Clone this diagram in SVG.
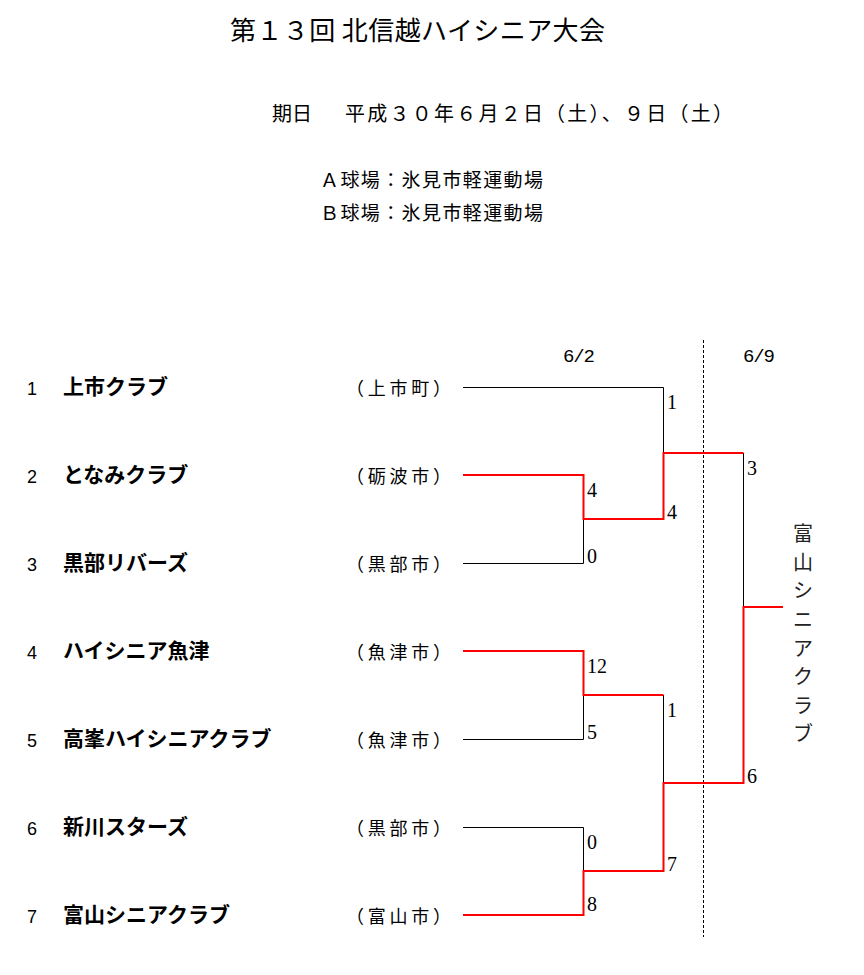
<svg xmlns="http://www.w3.org/2000/svg" width="864" height="975" viewBox="0 0 864 975">
<style>
.title{font-family:"Noto Sans CJK JP",sans-serif;font-size:26px;fill:#000}
.sub{font-family:"Noto Sans CJK JP",sans-serif;font-size:20px;fill:#000}
.venue{font-family:"Noto Sans CJK JP",sans-serif;font-size:19px;fill:#000}
.num{font-family:"Liberation Sans",sans-serif;font-size:18px;fill:#000}
.team{font-family:"Noto Sans CJK JP",sans-serif;font-size:21px;font-weight:bold;fill:#000}
.city{font-family:"Noto Sans CJK JP",sans-serif;font-size:18px;fill:#000}
.date{font-family:"Liberation Mono",monospace;font-size:19px;fill:#000}
.score{font-family:"Liberation Serif",serif;font-size:20px;fill:#000}
.win{font-family:"Noto Sans CJK JP",sans-serif;font-size:20px;fill:#222;text-anchor:middle}
.blk{fill:none;stroke:#000;stroke-width:1}
.red{fill:none;stroke:#ff0000;stroke-width:2}
.dash{fill:none;stroke:#000;stroke-width:1;stroke-dasharray:3,2}
</style>
<g id="header">
<text class="title" x="230" y="40" textLength="375">第１３回 北信越ハイシニア大会</text>
<text class="sub" x="272" y="121">期日</text>
<text class="sub" x="345" y="121" textLength="388">平成３０年６月２日（土）、９日（土）</text>
<text class="venue" x="320" y="187" textLength="223">Ａ球場：氷見市軽運動場</text>
<text class="venue" x="320" y="220" textLength="223">Ｂ球場：氷見市軽運動場</text>
<text class="date" x="563" y="362" textLength="32">6/2</text>
<text class="date" x="743" y="362" textLength="32">6/9</text>
</g>
<g id="team1"><text class="num" x="27" y="395">1</text><text class="team" x="63" y="394">上市クラブ</text><text class="city" x="346" y="395" textLength="105">（上市町）</text></g>
<g id="team2"><text class="num" x="27" y="483">2</text><text class="team" x="63" y="482">となみクラブ</text><text class="city" x="346" y="483" textLength="105">（砺波市）</text></g>
<g id="team3"><text class="num" x="27" y="571">3</text><text class="team" x="63" y="570">黒部リバーズ</text><text class="city" x="346" y="571" textLength="105">（黒部市）</text></g>
<g id="team4"><text class="num" x="27" y="659">4</text><text class="team" x="63" y="658">ハイシニア魚津</text><text class="city" x="346" y="659" textLength="105">（魚津市）</text></g>
<g id="team5"><text class="num" x="27" y="747">5</text><text class="team" x="63" y="746">高峯ハイシニアクラブ</text><text class="city" x="346" y="747" textLength="105">（魚津市）</text></g>
<g id="team6"><text class="num" x="27" y="835">6</text><text class="team" x="63" y="834">新川スターズ</text><text class="city" x="346" y="835" textLength="105">（黒部市）</text></g>
<g id="team7"><text class="num" x="27" y="923">7</text><text class="team" x="63" y="922">富山シニアクラブ</text><text class="city" x="346" y="923" textLength="105">（富山市）</text></g>
<g id="connectors">
<path class="dash" d="M703.5,340V937"/>
<path class="blk" d="M463,387.5H663.5V453"/>
<path class="blk" d="M463,563.5H583.5V519"/>
<path class="blk" d="M463,739.5H583.5V695"/>
<path class="blk" d="M463,827.5H583.5V871"/>
<path class="blk" d="M743.5,453V607"/>
<path class="blk" d="M663.5,695V783"/>
<path class="red" d="M463,475H583.5V519H663.5V453H743.5"/>
<path class="red" d="M463,651H583.5V695H663.5"/>
<path class="red" d="M463,915H583.5V871H663.5V783H743.5V607H783"/>
</g>
<g id="scores">
<text class="score" x="667" y="409">1</text>
<text class="score" x="587" y="497">4</text>
<text class="score" x="667" y="519">4</text>
<text class="score" x="587" y="563">0</text>
<text class="score" x="747" y="475">3</text>
<text class="score" x="587" y="673">12</text>
<text class="score" x="667" y="717">1</text>
<text class="score" x="587" y="739">5</text>
<text class="score" x="747" y="783">6</text>
<text class="score" x="587" y="849">0</text>
<text class="score" x="667" y="871">7</text>
<text class="score" x="587" y="911">8</text>
</g>
<g id="champion">
<text class="win"><tspan x="803" y="541">富</tspan><tspan x="803" y="570">山</tspan><tspan x="803" y="598">シ</tspan><tspan x="803" y="627">ニ</tspan><tspan x="803" y="656">ア</tspan><tspan x="803" y="684">ク</tspan><tspan x="803" y="713">ラ</tspan><tspan x="803" y="741">ブ</tspan></text>
</g>
</svg>
